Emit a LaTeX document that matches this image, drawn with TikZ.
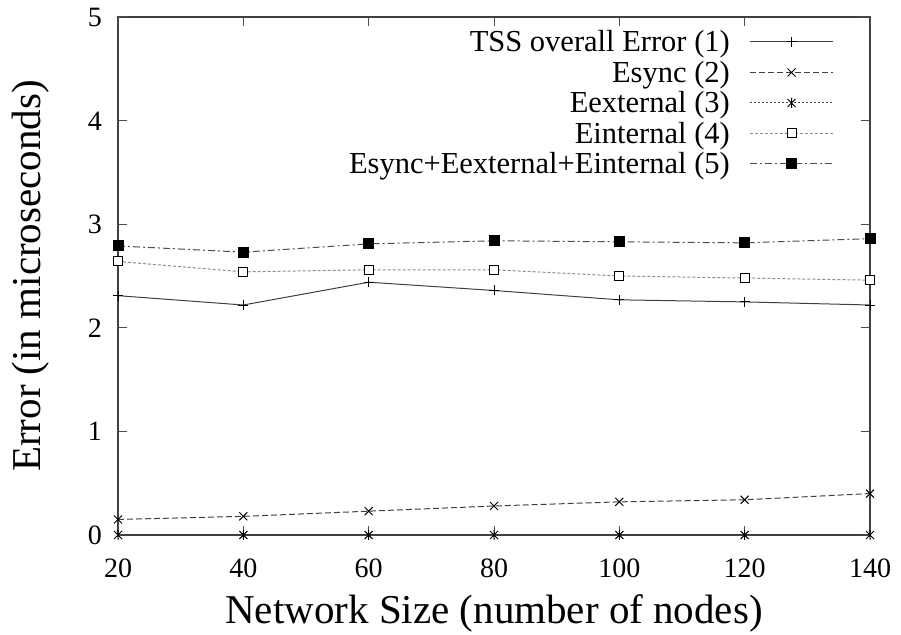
\documentclass[tikz,border=0pt]{standalone}
\usepackage{fontspec}
\setmainfont{Liberation Serif}
\begin{document}
\begin{tikzpicture}[
  frame/.style={draw=black!75, line width=1.3pt},
  tickln/.style={draw=black!70, line width=1pt},
  s1/.style={draw=black!75, line width=1pt},
  s2/.style={draw=black!75, line width=1pt, dash pattern=on 6pt off 3pt},
  s3/.style={draw=black!75, line width=1pt, dash pattern=on 2pt off 2pt},
  s4/.style={draw=black!45, line width=1pt, dash pattern=on 3pt off 2pt},
  s5/.style={draw=black!70, line width=1pt, dash pattern=on 7pt off 3pt on 2pt off 3pt},
  mk/.style={draw=black, line width=1pt, solid},
  plusmark/.pic={\draw[mk] (-5pt,0)--(5pt,0) (0,-5pt)--(0,5pt);},
  crossmark/.pic={\draw[mk] (-4pt,-4pt)--(4pt,4pt) (-4pt,4pt)--(4pt,-4pt);},
  starmark/.pic={\draw[mk] (-4pt,-4pt)--(4pt,4pt) (-4pt,4pt)--(4pt,-4pt) (0,-5pt)--(0,5pt);},
  boxmark/.pic={\draw[mk, fill=white] (-4.5pt,-4.5pt) rectangle (4.5pt,4.5pt);},
  fboxmark/.pic={\fill[black] (-5.5pt,-5.5pt) rectangle (5.5pt,5.5pt);},
  ticklbl/.style={font=\fontsize{28}{30}\selectfont, inner sep=0pt},
  axlbl/.style={font=\fontsize{41}{44}\selectfont, inner sep=0pt},
  leglbl/.style={font=\fontsize{30.5}{34}\selectfont, inner sep=0pt, anchor=base east},
]
\useasboundingbox (0,0) rectangle (901pt,634pt);

\begin{scope}[x=6.266667pt, y=103.6pt, shift={(-7.33333pt,99pt)}]
  % frame
  \coordinate (ll) at (20,0);
  \coordinate (ur) at (140,5);
  \draw[frame] (ll) rectangle (ur);
  % y ticks and labels
  \foreach \y in {0,...,5} {
    \draw[tickln] (20,\y) -- ++(9pt,0);
    \draw[tickln] (140,\y) -- ++(-9pt,0);
    \node[ticklbl, anchor=base east] (yl\y) at ([xshift=-16pt, yshift=-9.5pt]20,\y) {\y};
  }
  % x ticks and labels
  \foreach \x in {20,40,...,140} {
    \draw[tickln] (\x,0) -- ++(0,9pt);
    \draw[tickln] (\x,5) -- ++(0,-9pt);
    \node[ticklbl, anchor=base] (xl\x) at ([yshift=-42pt]\x,0) {\x};
  }
  % data points
  \foreach \n/\v [count=\i] in {20/2.31,40/2.22,60/2.44,80/2.36,100/2.27,120/2.25,140/2.22}
    \coordinate (a\i) at (\n,\v);
  \foreach \n/\v [count=\i] in {20/0.15,40/0.18,60/0.23,80/0.28,100/0.32,120/0.34,140/0.40}
    \coordinate (b\i) at (\n,\v);
  \foreach \n/\v [count=\i] in {20/0,40/0,60/0,80/0,100/0,120/0,140/0}
    \coordinate (c\i) at (\n,\v);
  \foreach \n/\v [count=\i] in {20/2.64,40/2.54,60/2.56,80/2.56,100/2.50,120/2.48,140/2.46}
    \coordinate (d\i) at (\n,\v);
  \foreach \n/\v [count=\i] in {20/2.79,40/2.73,60/2.81,80/2.84,100/2.83,120/2.82,140/2.86}
    \coordinate (e\i) at (\n,\v);

  \draw[s1] (a1) -- (a2) -- (a3) -- (a4) -- (a5) -- (a6) -- (a7);
  \draw[s2] (b1) -- (b2) -- (b3) -- (b4) -- (b5) -- (b6) -- (b7);
  \draw[s3] (c1) -- (c2) -- (c3) -- (c4) -- (c5) -- (c6) -- (c7);
  \draw[s4] (d1) -- (d2) -- (d3) -- (d4) -- (d5) -- (d6) -- (d7);
  \draw[s5] (e1) -- (e2) -- (e3) -- (e4) -- (e5) -- (e6) -- (e7);

  \foreach \i in {1,...,7} {
    \pic at (a\i) {plusmark};
    \pic at (b\i) {crossmark};
    \pic at (c\i) {starmark};
    \pic at (d\i) {boxmark};
    \pic at (e\i) {fboxmark};
  }
\end{scope}

% axis labels
\node[axlbl, anchor=base] (xlab) at (494pt,11pt) {Network Size (number of nodes)};
\node[axlbl, rotate=90, anchor=base] (ylab) at (40pt,358pt) {Error (in microseconds)};

% legend
\foreach \r/\yy/\txt in {1/592/{TSS overall Error (1)},2/561.5/{Esync (2)},3/531/{Eexternal (3)},4/500.5/{Einternal (4)},5/470/{Esync+Eexternal+Einternal (5)}} {
  \node[leglbl] (lt\r) at (730pt,\yy pt-10pt) {\txt};
  \coordinate (lA\r) at (750pt,\yy pt);
  \coordinate (lM\r) at (791.5pt,\yy pt);
  \coordinate (lB\r) at (833pt,\yy pt);
}
\draw[s1] (lA1) -- (lB1); \pic at (lM1) {plusmark};
\draw[s2] (lA2) -- (lB2); \pic at (lM2) {crossmark};
\draw[s3] (lA3) -- (lB3); \pic at (lM3) {starmark};
\draw[s4] (lA4) -- (lB4); \pic at (lM4) {boxmark};
\draw[s5] (lA5) -- (lB5); \pic at (lM5) {fboxmark};
\end{tikzpicture}
\end{document}
